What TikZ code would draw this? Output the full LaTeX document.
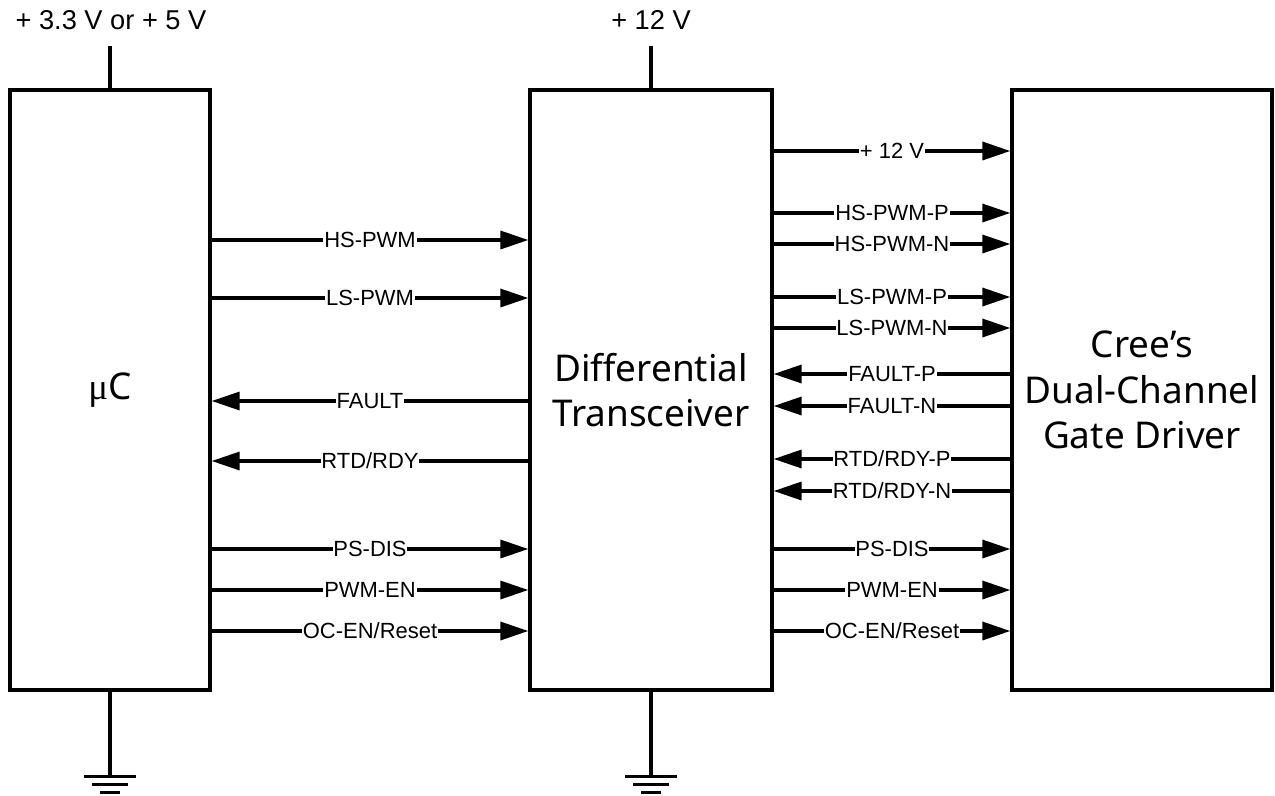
\documentclass[tikz,border=0pt]{standalone}
\usepackage{fontspec}
\setmainfont{Liberation Sans}
\newfontfamily\blockfont{Noto Sans}
\newfontfamily\mufont{Liberation Serif}
\usetikzlibrary{positioning, arrows.meta, calc}

\begin{document}
\begin{tikzpicture}[
        x=0.02cm, y=-0.02cm,
        block/.style={draw, rectangle, line width=1.9pt, minimum height=12cm, align=center, font=\blockfont\fontsize{21}{26}\selectfont},
        sig/.style={line width=1.9pt, -{Triangle[length=0.56cm, width=0.36cm]}},
        lbl/.style={fill=white, inner sep=0.5pt, font=\fontsize{12.5}{14}\selectfont},
        supply/.style={font=\fontsize{15.5}{18}\selectfont},
        wire/.style={line width=1.9pt}
    ]
    \useasboundingbox (0,0) rectangle (1275,795);

    % blocks
    \node[block, minimum width=4cm] (MC) at (110,390) {{\mufont μ}C};
    \node[block, minimum width=4.84cm] (Xcvr) at (651,390) {Differential\\Transceiver};
    \node[block, minimum width=5.2cm] (Gate) at (1142,390) {Cree’s\\Dual-Channel\\Gate Driver};

    % supplies
    \node[supply] (VccMC) at (111,20) {+ 3.3 V or + 5 V};
    \node[supply] (VccX) at (651,20) {+ 12 V};
    \draw[wire] (MC.north) -- ++(0,-42);
    \draw[wire] (Xcvr.north) -- ++(0,-42);

    % grounds
    \foreach \b in {MC, Xcvr} {
        \draw[wire] (\b.south) -- ++(0,85) coordinate (\b-gnd);
        \draw[wire] ($(\b-gnd)+(-26,0)$) -- ++(52,0);
        \draw[wire] ($(\b-gnd)+(-18,8)$) -- ++(36,0);
        \draw[wire] ($(\b-gnd)+(-10,16)$) -- ++(20,0);
    }

    % uC <-> transceiver
    \draw[sig] (MC.east |- 0,240) -- node[lbl] {HS-PWM} (Xcvr.west |- 0,240);
    \draw[sig] (MC.east |- 0,298) -- node[lbl] {LS-PWM} (Xcvr.west |- 0,298);
    \draw[sig] (Xcvr.west |- 0,401) -- node[lbl] {FAULT} (MC.east |- 0,401);
    \draw[sig] (Xcvr.west |- 0,461) -- node[lbl] {RTD/RDY} (MC.east |- 0,461);
    \draw[sig] (MC.east |- 0,549) -- node[lbl] {PS-DIS} (Xcvr.west |- 0,549);
    \draw[sig] (MC.east |- 0,590) -- node[lbl] {PWM-EN} (Xcvr.west |- 0,590);
    \draw[sig] (MC.east |- 0,631) -- node[lbl] {OC-EN/Reset} (Xcvr.west |- 0,631);

    % transceiver <-> gate driver
    \draw[sig] (Xcvr.east |- 0,151) -- node[lbl] {+ 12 V} (Gate.west |- 0,151);
    \draw[sig] (Xcvr.east |- 0,213) -- node[lbl] {HS-PWM-P} (Gate.west |- 0,213);
    \draw[sig] (Xcvr.east |- 0,244) -- node[lbl] {HS-PWM-N} (Gate.west |- 0,244);
    \draw[sig] (Xcvr.east |- 0,297) -- node[lbl] {LS-PWM-P} (Gate.west |- 0,297);
    \draw[sig] (Xcvr.east |- 0,328) -- node[lbl] {LS-PWM-N} (Gate.west |- 0,328);
    \draw[sig] (Gate.west |- 0,374) -- node[lbl] {FAULT-P} (Xcvr.east |- 0,374);
    \draw[sig] (Gate.west |- 0,406) -- node[lbl] {FAULT-N} (Xcvr.east |- 0,406);
    \draw[sig] (Gate.west |- 0,459) -- node[lbl] {RTD/RDY-P} (Xcvr.east |- 0,459);
    \draw[sig] (Gate.west |- 0,491) -- node[lbl] {RTD/RDY-N} (Xcvr.east |- 0,491);
    \draw[sig] (Xcvr.east |- 0,549) -- node[lbl] {PS-DIS} (Gate.west |- 0,549);
    \draw[sig] (Xcvr.east |- 0,590) -- node[lbl] {PWM-EN} (Gate.west |- 0,590);
    \draw[sig] (Xcvr.east |- 0,631) -- node[lbl] {OC-EN/Reset} (Gate.west |- 0,631);

\end{tikzpicture}
\end{document}
